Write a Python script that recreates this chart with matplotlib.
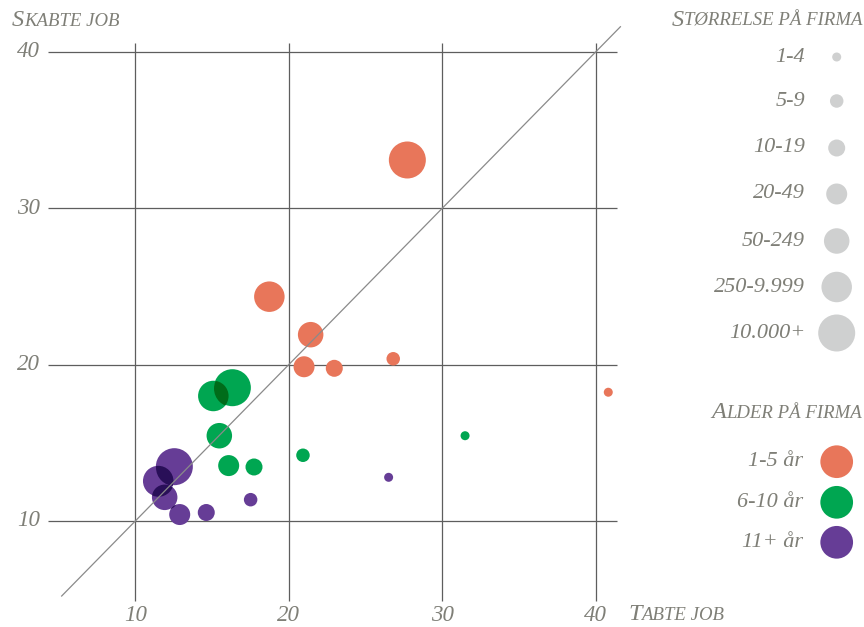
import matplotlib
matplotlib.use("Agg")
import matplotlib.pyplot as plt
import numpy as np
import matplotlib.colors as mcolors
from matplotlib.offsetbox import TextArea, HPacker, AnnotationBbox
from matplotlib.path import Path
from matplotlib.transforms import Affine2D, ScaledTranslation

# ---------------- data ----------------
size_labels = ["1-4", "5-9", "10-19", "20-49", "50-249", "250-9.999", "10.000+"]
age_labels = ["1-5 år", "6-10 år", "11+ år"]
age_colors = ["#e8765a", "#00a651", "#663d96"]

# Tabte job (x) and Skabte job (y), ordered by size class (1-4 ... 10.000+)
lost_age1 = [40.81, 26.80, 22.96, 20.99, 21.42, 18.73, 27.72]
created_age1 = [18.23, 20.37, 19.76, 19.86, 21.91, 24.34, 33.08]
lost_age2 = [31.48, 20.92, 17.73, 16.08, 15.47, 15.08, 16.32]
created_age2 = [15.45, 14.20, 13.45, 13.54, 15.45, 17.99, 18.52]
lost_age3 = [26.50, 17.51, 14.62, 12.89, 11.91, 11.49, 12.54]
created_age3 = [12.79, 11.36, 10.54, 10.41, 11.51, 12.55, 13.47]

x_ticks = [10, 20, 30, 40]
y_ticks = [10, 20, 30, 40]

# ---------------- style ----------------
W, H, DPI = 864, 627, 100
TXT = "#7f7f77"
GRID = "#5e5e5e"
LEGEND_GREY = "#cfd0d0"
FONT = "Liberation Serif"
diam_px = np.array([9, 13.5, 17, 21, 25.5, 30.5, 37.0])
marker_s = (diam_px * 72 / DPI) ** 2

fig = plt.figure(figsize=(W / DPI, H / DPI), dpi=DPI)
fig.patch.set_facecolor("white")
ax = fig.add_axes([0, 0, 1, 1])
ax.set_xlim(1.182, 57.47)
ax.set_ylim(3.219, 43.31)
ax.axis("off")

# grid
ax.hlines(y_ticks, 4.31, 41.38, color=GRID, lw=0.9, zorder=1)
ax.vlines(x_ticks, 4.88, 40.56, color=GRID, lw=0.9, zorder=1)
# diagonal
ax.plot([5.2, 41.6], [5.2, 41.6], color="#8a8a8a", lw=0.9, zorder=4)

# tick labels
for t in y_ticks:
    ax.text(3.79, t, str(t), ha="right", va="center", fontsize=16.5,
            fontstyle="italic", family=FONT, color=TXT)
for t in x_ticks:
    ax.text(t, 3.95, str(t), ha="center", va="center", fontsize=16.5,
            fontstyle="italic", family=FONT, color=TXT)

# bubbles with multiply-like overlap
groups = [(lost_age1, created_age1), (lost_age2, created_age2), (lost_age3, created_age3)]
for ci, (xs, ys) in enumerate(groups):
    col = np.array(mcolors.to_rgb(age_colors[ci]))
    mult = col * col
    ax.scatter(xs, ys, s=marker_s, color=col, linewidths=0, zorder=2)
    pts = ax.transData.transform(np.column_stack([xs, ys]))
    r = np.sqrt(marker_s) / 2 * DPI / 72
    n = len(xs)
    for i in range(n):
        for j in range(i + 1, n):
            d = np.hypot(*(pts[i] - pts[j]))
            if d < r[i] + r[j]:
                ov = ax.scatter([xs[j]], [ys[j]], s=[marker_s[j]], color=mult,
                                linewidths=0, zorder=3)
                clip_t = Affine2D().scale(r[i]) + ScaledTranslation(xs[i], ys[i], ax.transData)
                ov.set_clip_path(Path.unit_circle(), clip_t)

# ---------------- overlay for legends / titles (pixel coords) ----------------
lax = fig.add_axes([0, 0, 1, 1], zorder=5)
lax.set_xlim(0, W)
lax.set_ylim(H, 0)
lax.axis("off")
lax.patch.set_alpha(0)


def smallcaps(text, x, y, ha="left", big=17.5, small=13.5):
    parts = [(text[0].upper(), big), (text[1:].upper(), small)]
    children = [TextArea(s, textprops=dict(fontsize=fs, fontstyle="italic",
                                           family=FONT, color=TXT))
                for s, fs in parts]
    box = HPacker(children=children, align="baseline", pad=0, sep=0)
    ab = AnnotationBbox(box, (x, y), xycoords="data", frameon=False, pad=0,
                        box_alignment=(0 if ha == "left" else 1, 0.5))
    lax.add_artist(ab)


smallcaps("Skabte job", 12, 20)
smallcaps("Tabte job", 628, 614)
smallcaps("Størrelse på firma", 862, 20, ha="right")
smallcaps("Alder på firma", 862, 413, ha="right")

size_y = [57, 101, 148, 194, 241, 287, 333]
lax.scatter([836.7] * len(size_labels), size_y, s=marker_s, color=LEGEND_GREY,
            linewidths=0)
for lab, yy in zip(size_labels, size_y):
    lax.text(805, yy, lab, ha="right", va="center", fontsize=16,
             fontstyle="italic", family=FONT, color=TXT)

age_y = [461.7, 502.3, 542.3]
age_s = (32.7 * 72 / DPI) ** 2
lax.scatter([836.7] * 3, age_y, s=age_s, color=age_colors, linewidths=0)
for lab, yy in zip(age_labels, age_y):
    lax.text(803, yy, lab, ha="right", va="center", fontsize=16,
             fontstyle="italic", family=FONT, color=TXT)

fig.savefig("out.png", dpi=DPI, facecolor="white")
